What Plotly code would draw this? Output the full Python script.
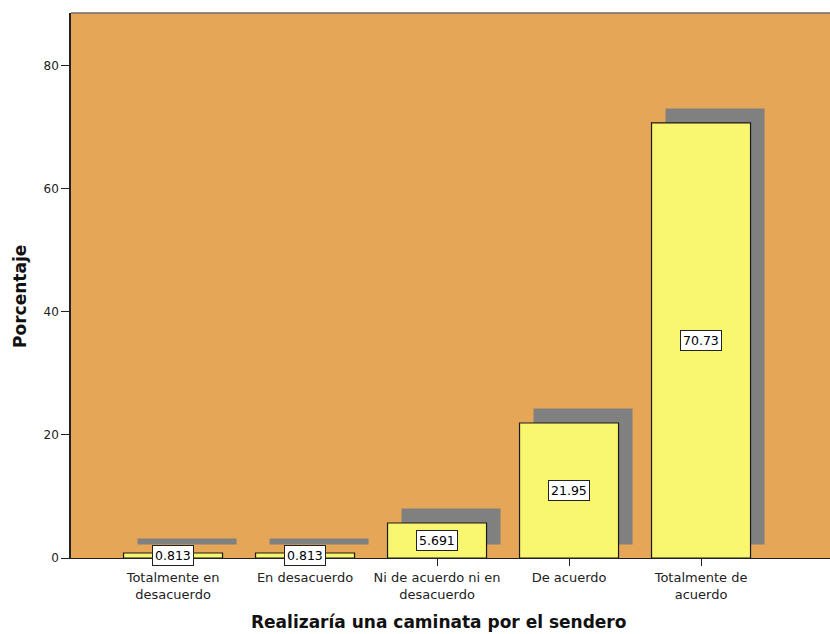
import plotly.graph_objects as go

categories = ["Totalmente en<br>desacuerdo", "En desacuerdo", "Ni de acuerdo ni en<br>desacuerdo",
              "De acuerdo", "Totalmente de<br>acuerdo"]
values = [0.813, 0.813, 5.691, 21.95, 70.73]
labels = ["0.813", "0.813", "5.691", "21.95", "70.73"]
y_ticks = [0, 20, 40, 60, 80]
x_title = "<b>Realizaría una caminata por el sendero</b>"
y_title = "<b>Porcentaje</b>"

x_pos = list(range(len(categories)))
bar_w = 0.75
shadow_dx = 0.106
shadow_base = 2.2
shadow_rise = 2.35

FONT = "DejaVu Sans, Liberation Sans, Arial"

fig = go.Figure()
# shadow bars
fig.add_trace(go.Bar(
    x=x_pos, y=[v + shadow_rise - shadow_base for v in values], base=shadow_base,
    width=bar_w, offset=-bar_w / 2 + shadow_dx,
    marker=dict(color="#808080", line=dict(width=0)), hoverinfo="skip", showlegend=False))
# main bars
fig.add_trace(go.Bar(
    x=x_pos, y=values, width=bar_w,
    marker=dict(color="#F9F76F", line=dict(color="#1a1a1a", width=1.2)),
    showlegend=False))

for xi, v, t in zip(x_pos, values, labels):
    fig.add_annotation(x=xi, y=v / 2, text=t, showarrow=False,
                       font=dict(family=FONT, size=12.5, color="#000"),
                       bgcolor="white", bordercolor="#222", borderwidth=1, borderpad=2)

# axis titles
fig.add_annotation(x=0.484, xref="paper", y=0, yref="paper", yanchor="middle", yshift=-64,
                   text=x_title, showarrow=False, font=dict(family=FONT, size=17, color="#111"))
fig.add_annotation(x=0, xref="paper", xanchor="center", xshift=-51, y=0.479, yref="paper",
                   yanchor="middle", textangle=-90,
                   text=y_title, showarrow=False, font=dict(family=FONT, size=17, color="#111"))

fig.add_shape(type="line", xref="paper", yref="paper", x0=0, x1=1, y0=1, y1=1,
              line=dict(color="#6b6b6b", width=1.5))

fig.update_layout(
    width=830, height=634,
    margin=dict(l=71, r=0, t=13, b=76),
    plot_bgcolor="#E5A657", paper_bgcolor="white",
    barmode="overlay",
    font=dict(family=FONT, size=12, color="#222"),
    xaxis=dict(range=[-0.773, 4.977], tickvals=x_pos, ticktext=categories,
               ticks="outside", ticklen=7, tickcolor="#222", showgrid=False, zeroline=False,
               showline=True, linecolor="#222", linewidth=1.2,
               tickfont=dict(size=13)),
    yaxis=dict(range=[0, 88.6], tickvals=y_ticks, ticks="outside", ticklen=8, tickcolor="#222",
               showgrid=False, zeroline=False, showline=True, linecolor="#222", linewidth=1.5,
               tickfont=dict(size=12)),
)

fig.write_html("out.html", config={"displayModeBar": False},
               post_script="document.body.style.margin='0';document.body.style.overflow='hidden';")
